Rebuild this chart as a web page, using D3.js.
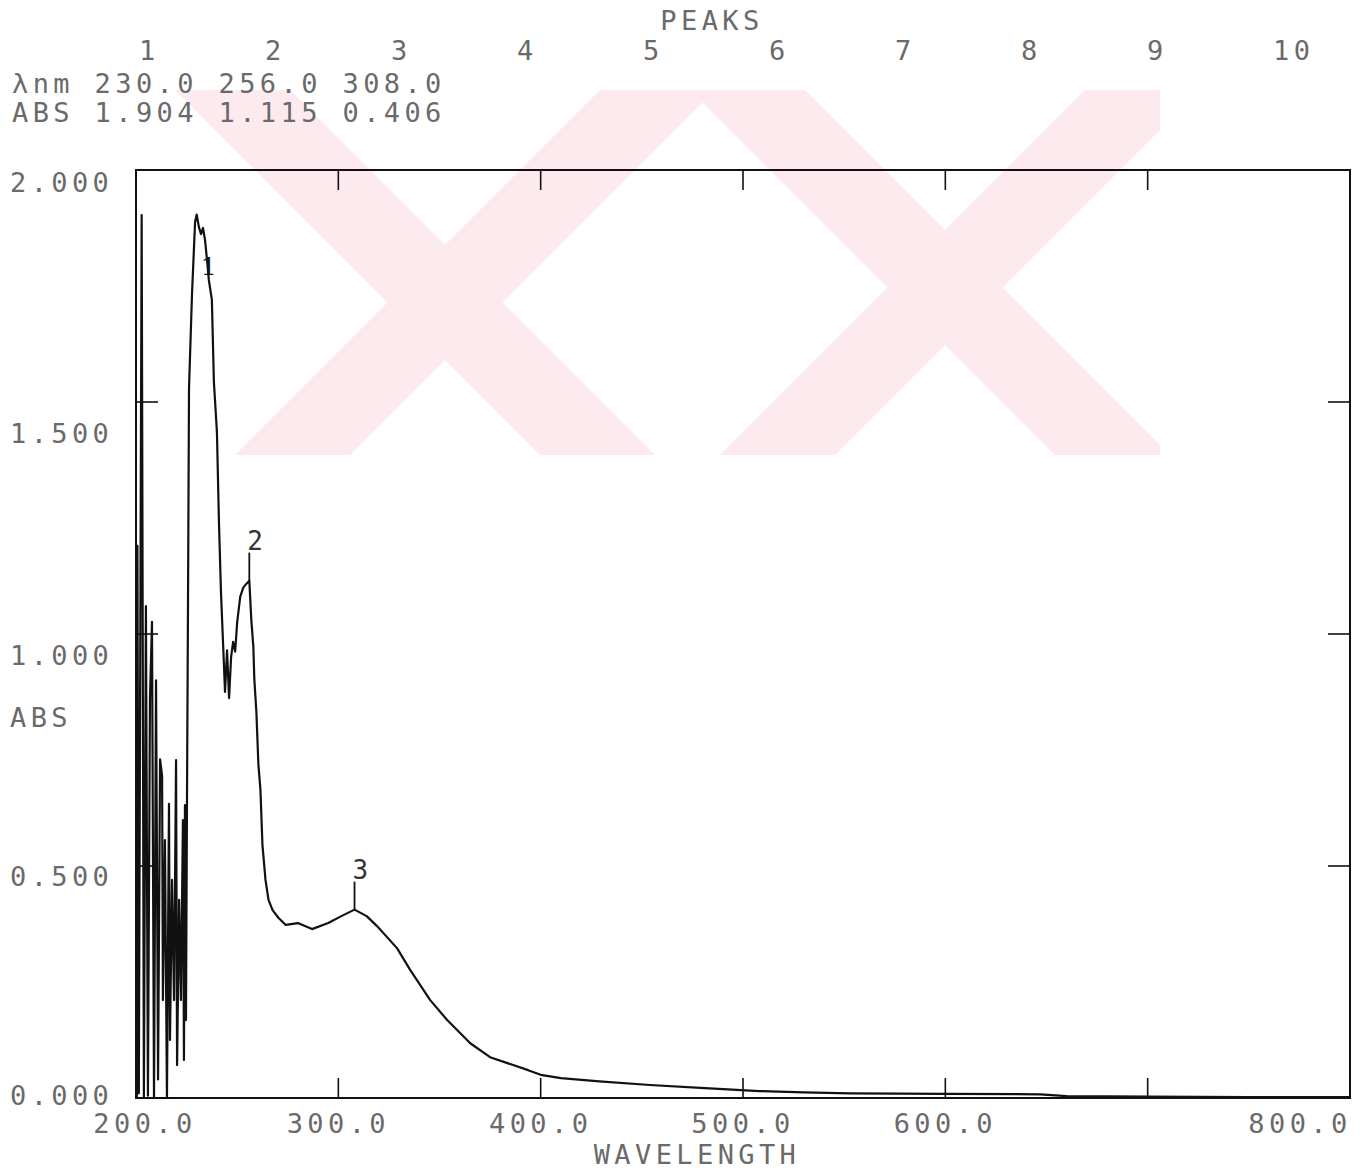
<!DOCTYPE html>
<html>
<head>
<meta charset="utf-8">
<script src="https://cdnjs.cloudflare.com/ajax/libs/d3/7.8.5/d3.min.js"></script>
<style>
  html, body { margin: 0; padding: 0; background: #fff; }
  svg { display: block; }
  .plotter { font-family: "DejaVu Sans Mono", "Liberation Mono", monospace; font-size: 27px; fill: #6a6a6a; letter-spacing: 4.4px; }
</style>
</head>
<body>
<svg id="chart" width="1370" height="1172"></svg>
<script>
// UV-Vis absorbance scan: wavelength (nm) and absorbance readings
const wavelength = [
  200.4, 200.7, 201.4, 202.8, 203.9, 204.9, 205.9, 206.9, 207.9, 208.9,
  209.9, 210.9, 211.9, 212.9, 213.3, 214.3, 215.3, 216.3, 216.8, 217.8,
  218.8, 219.8, 220.3, 221.3, 222.2, 223.2, 223.7, 224.2, 224.7, 225.2,
  225.7, 226.2, 227.7, 229.2, 230.0, 231.1, 232.1, 233.1, 234.1, 235.1,
  236.0, 237.5, 238.5, 240.0, 241.0, 242.0, 243.0, 244.0, 245.0, 246.0,
  247.0, 248.0, 249.0, 250.0, 251.5, 253.0, 254.5, 256.0, 257.0, 258.0,
  258.5, 259.5, 260.5, 261.5, 262.5, 264.0, 265.5, 267.5, 270.5, 274.0,
  280.0, 287.0, 295.0, 301.5, 308.0, 314.0, 319.0, 329.0, 335.5, 345.4,
  353.8, 365.2, 375.0, 386.4, 393.8, 400.0, 410.0, 429.0, 454.0, 479.0,
  508.0, 530.0, 553.0, 600.0, 647.0, 660.0, 700.0, 750.0, 800.0
];
const absorbance = [
  0.000, 1.190, 0.010, 1.903, 0.000, 1.060, 0.005, 0.860, 1.026, 0.000,
  0.900, 0.040, 0.730, 0.694, 0.211, 0.556, 0.000, 0.634, 0.125, 0.470,
  0.211, 0.728, 0.071, 0.427, 0.211, 0.599, 0.082, 0.631, 0.168, 0.640,
  1.065, 1.530, 1.735, 1.888, 1.904, 1.877, 1.862, 1.875, 1.850, 1.806,
  1.763, 1.720, 1.543, 1.435, 1.241, 1.090, 0.983, 0.875, 0.965, 0.862,
  0.950, 0.983, 0.962, 1.025, 1.080, 1.100, 1.108, 1.115, 1.030, 0.972,
  0.901, 0.832, 0.718, 0.664, 0.545, 0.470, 0.427, 0.405, 0.388, 0.373,
  0.377, 0.364, 0.377, 0.392, 0.406, 0.392, 0.371, 0.323, 0.276, 0.211,
  0.168, 0.118, 0.088, 0.071, 0.060, 0.050, 0.043, 0.036, 0.028, 0.022,
  0.015, 0.012, 0.010, 0.009, 0.008, 0.004, 0.003, 0.002, 0.002
];

// Peak table
const peakSlots = [1, 2, 3, 4, 5, 6, 7, 8, 9, 10];
const peakNm = [230.0, 256.0, 308.0];
const peakAbs = [1.904, 1.115, 0.406];

// Axis ticks and labels
const xTicks = [200, 300, 400, 500, 600, 700, 800];
const xTickLabels = [200, 300, 400, 500, 600, 800];
const yTicks = [0, 0.5, 1.0, 1.5, 2.0];

const svg = d3.select("#chart");
const plot = { left: 136, right: 1350, top: 170, bottom: 1098 };

const x = d3.scaleLinear().domain([200, 800]).range([plot.left, plot.right]);
const y = d3.scaleLinear().domain([0, 2]).range([plot.bottom, plot.top]);

// faint pink background emblem
const emblem = svg.append("g").attr("fill", "#fdeaee");
const band = (x0, y0, x1, y1, w) => [[x0, y0], [x0 + w, y0], [x1 + w, y1], [x1, y1]];
svg.append("clipPath").attr("id", "emblemClip")
  .append("rect").attr("x", 175).attr("y", 90).attr("width", 985).attr("height", 365);
emblem.attr("clip-path", "url(#emblemClip)");
[
  band(175, 90, 540, 455, 115),
  band(600, 90, 235, 455, 115),
  band(690, 90, 1055, 455, 115),
  band(1085, 90, 720, 455, 115)
].forEach(p => emblem.append("polygon").attr("points", p.map(d => d.join(",")).join(" ")));

// plot frame
svg.append("rect")
  .attr("x", plot.left).attr("y", plot.top)
  .attr("width", plot.right - plot.left).attr("height", plot.bottom - plot.top)
  .attr("fill", "none").attr("stroke", "#111").attr("stroke-width", 2);

const tickLen = 20;
const ticks = svg.append("g").attr("stroke", "#111").attr("stroke-width", 1.6);
xTicks.filter(v => v > 200 && v < 800).forEach(v => {
  ticks.append("line").attr("x1", x(v)).attr("x2", x(v)).attr("y1", plot.top).attr("y2", plot.top + tickLen);
  ticks.append("line").attr("x1", x(v)).attr("x2", x(v)).attr("y1", plot.bottom).attr("y2", plot.bottom - tickLen);
});
yTicks.filter(v => v > 0 && v < 2).forEach(v => {
  ticks.append("line").attr("x1", plot.left).attr("x2", plot.left + tickLen + 2).attr("y1", y(v)).attr("y2", y(v));
  ticks.append("line").attr("x1", plot.right).attr("x2", plot.right - tickLen - 2).attr("y1", y(v)).attr("y2", y(v));
});

// spectrum trace
const pts = wavelength.map((w, i) => [w, absorbance[i]]);
svg.append("path")
  .datum(pts)
  .attr("fill", "none")
  .attr("stroke", "#111")
  .attr("stroke-width", 2.2)
  .attr("stroke-linejoin", "round")
  .attr("d", d3.line().x(d => x(d[0])).y(d => y(d[1])));

// peak markers and numbers
const marks = svg.append("g");
peakNm.forEach((nm, i) => {
  const px = x(nm), py = y(peakAbs[i]);
  if (py - plot.top < 80) {
    marks.append("text").attr("x", px + 4).attr("y", py + 60)
      .attr("font-family", "DejaVu Serif, serif").attr("font-size", 25).attr("fill", "#111")
      .text(i + 1);
  } else {
    marks.append("line").attr("x1", px).attr("x2", px).attr("y1", py).attr("y2", py - 28)
      .attr("stroke", "#111").attr("stroke-width", 1.8);
    marks.append("text").attr("x", px - 2).attr("y", py - 31)
      .attr("class", "plotter").style("fill", "#333").style("font-size", "26px")
      .text(i + 1);
  }
});

// header: peak table
const txt = svg.append("g").attr("class", "plotter");
txt.append("text").attr("x", 712).attr("y", 30).attr("text-anchor", "middle").text("PEAKS");
peakSlots.forEach((n, i) => {
  txt.append("text").attr("x", 139 + i * 126).attr("y", 60).text(n);
});
txt.append("text").attr("x", 12).attr("y", 93)
  .text("λnm " + peakNm.map(v => v.toFixed(1)).join(" "));
txt.append("text").attr("x", 12).attr("y", 122)
  .text("ABS " + peakAbs.map(v => v.toFixed(3)).join(" "));

// y labels (plotter places them on its own label grid)
const yLab = d3.scaleLinear().domain([0, 0.5, 1, 1.5, 2]).range([1105, 886, 665, 443, 192]);
yTicks.forEach(v => {
  txt.append("text").attr("x", 10).attr("y", yLab(v)).text(v.toFixed(3));
});
txt.append("text").attr("x", 10).attr("y", 727).text("ABS");

// x labels
xTickLabels.forEach(v => {
  const cx = Math.min(Math.max(x(v), 145), plot.right - 50);
  txt.append("text").attr("x", cx).attr("y", 1133).attr("text-anchor", "middle").text(v.toFixed(1));
});
txt.append("text").attr("x", 697).attr("y", 1164).attr("text-anchor", "middle").text("WAVELENGTH");
</script>
</body>
</html>
